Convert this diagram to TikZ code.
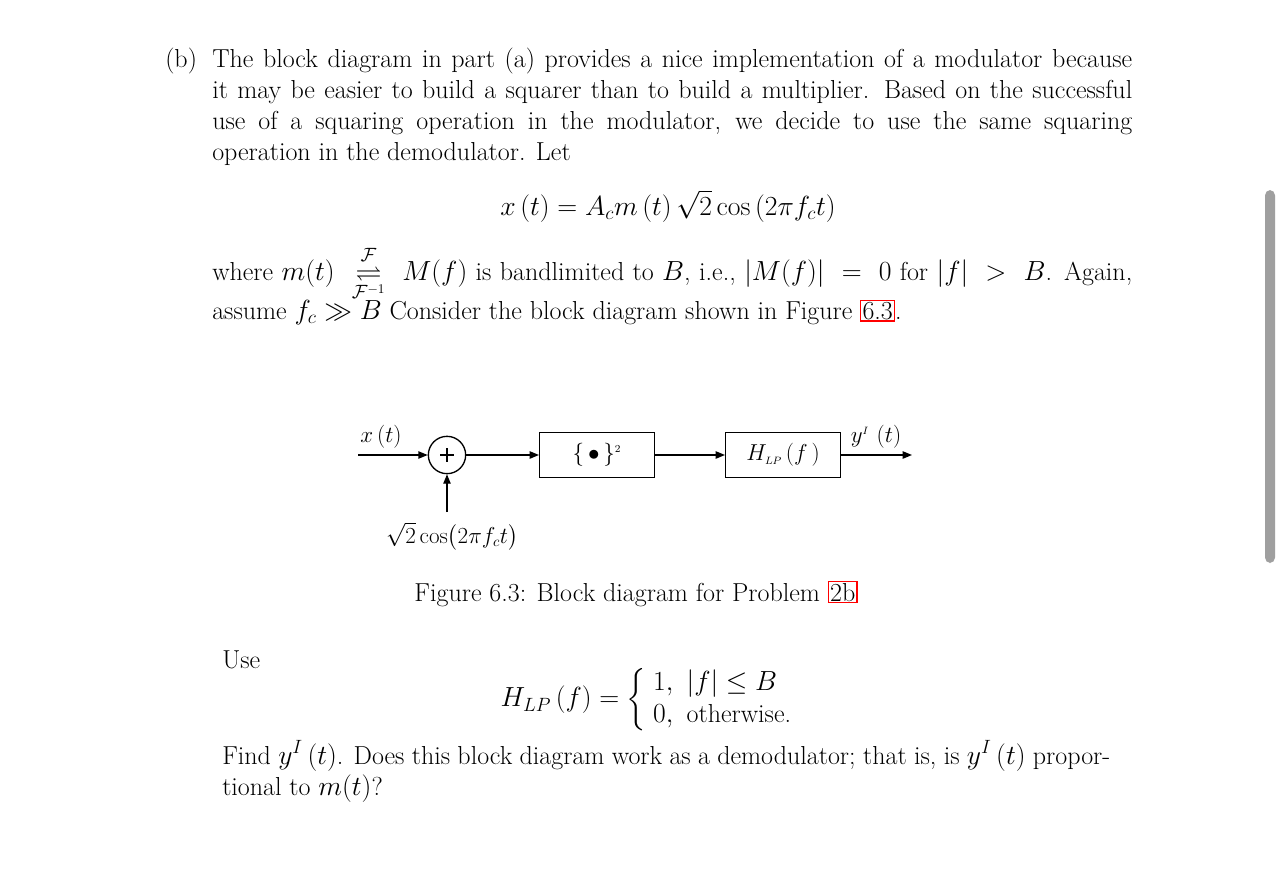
\documentclass[tikz,border=0pt]{standalone}
\usepackage{amsmath,amssymb}
\usetikzlibrary{arrows.meta}
\newcommand{\lnk}[1]{{\setlength{\fboxsep}{0.8pt}\setlength{\fboxrule}{0.9pt}\fcolorbox{red}{white}{#1}}}
\begin{document}
\begin{tikzpicture}[x=0.75pt,y=-0.75pt,
  txt/.style={anchor=base west,inner sep=0pt,font=\fontsize{19.5}{24}\selectfont},
  lbl/.style={inner sep=0pt,font=\fontsize{16}{19}\selectfont},
  blk/.style={draw,line width=1pt,minimum width=86pt,minimum height=34pt,inner sep=0pt,font=\fontsize{16}{19}\selectfont},
  sig/.style={line width=1pt,-{Triangle[length=7pt,width=5.5pt]}}]
\useasboundingbox (0,0) rectangle (1284,889);
\fill[white] (0,0) rectangle (1284,889);
\fill[gray!75,rounded corners=4pt] (1265,190) rectangle (1275,563);
% paragraph
\node[txt] (b) at (165,67) {(b)};
\node[txt] (l1) at (212,67) {\makebox[690pt][s]{The block diagram in part (a) provides a nice implementation of a modulator because}};
\node[txt] (l2) at (212,98) {\makebox[690pt][s]{it may be easier to build a squarer than to build a multiplier. Based on the successful}};
\node[txt] (l3) at (212,129) {\makebox[690pt][s]{use of a squaring operation in the modulator, we decide to use the same squaring}};
\node[txt] (l4) at (212,160) {operation in the demodulator. Let};
\node[txt,anchor=base] (eq1) at (668,215) {$x\left(t\right)=A_cm\left(t\right)\sqrt{2}\cos\left(2\pi f_ct\right)$};
\node[txt] (l5) at (212,280) {\makebox[690pt][s]{where $m(t)\ \underset{\mathcal{F}^{-1}}{\overset{\mathcal{F}}{\rightleftharpoons}}\ M(f)$ is bandlimited to $B$, i.e., $|M(f)|\ =\ 0$ for $|f|\ >\ B$. Again,}};
\node[txt] (l6) at (212,319) {assume $f_c\gg B$ Consider the block diagram shown in Figure \lnk{6.3}.};
% diagram
\coordinate (in) at (358,455);
\node[draw,circle,line width=1pt,minimum size=28pt,inner sep=0pt] (sum) at (447,455) {};
\draw[line width=1.8pt] (sum.center)++(-7,0) -- ++(14,0) (sum.center)++(0,-7) -- ++(0,14);
\node[blk] (sq) at (597,455) {$\{\,\bullet\,\}^{\scriptscriptstyle 2}$};
\node[blk] (lp) at (783,455) {$H_{\scriptscriptstyle LP}\left(f\,\right)$};
\coordinate (out) at (912,455);
\coordinate (car) at (447,512);
\draw[sig] (in) -- (sum);
\draw[sig] (car) -- (sum);
\draw[sig] (sum) -- (sq);
\draw[sig] (sq) -- (lp);
\draw[sig] (lp) -- (out);
\node[lbl] (xl) at (381,437) {$x\left(t\right)$};
\node[lbl] (yl) at (876,437) {$y^{\scriptscriptstyle I}\,\left(t\right)$};
\node[lbl] (cl) at (452,537) {$\sqrt{2}\,\mathrm{cos}\big(2\pi f_{c}t\big)$};
\node[txt,anchor=base] (cap) at (636,601) {Figure 6.3: Block diagram for Problem \lnk{2b}};
% second part
\node[txt] (use) at (222,668) {Use};
\node[txt,anchor=center] (eq2) at (650,700) {$H_{LP}\left(f\right)=\left\{\begin{array}{ll}1, & |f|\le B\\ 0, & \text{otherwise.}\end{array}\right.$};
\node[txt] (f1) at (222,764) {\makebox[666pt][s]{Find $y^I\left(t\right)$. Does this block diagram work as a demodulator; that is, is $y^I\left(t\right)$ propor-}};
\node[txt] (f2) at (222,795) {tional to $m(t)$?};
\end{tikzpicture}
\end{document}
